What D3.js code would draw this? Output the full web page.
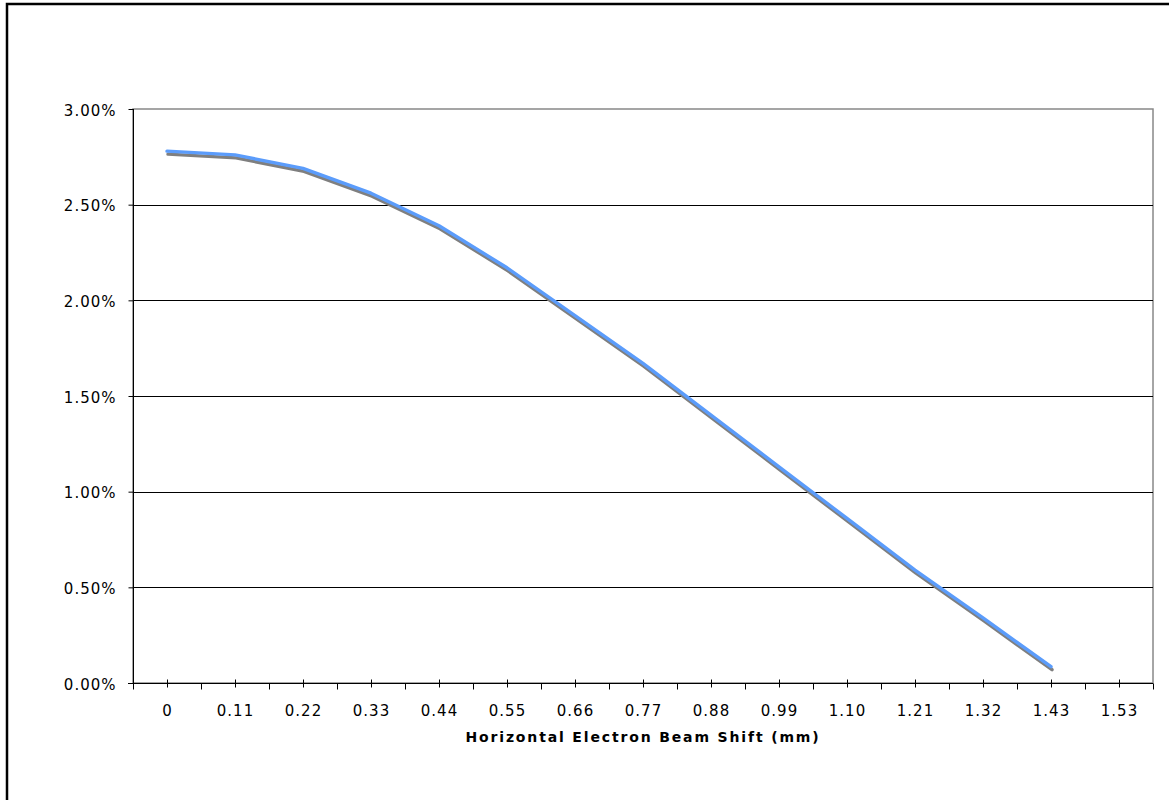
<!DOCTYPE html>
<html>
<head>
<meta charset="utf-8">
<script src="https://cdn.jsdelivr.net/npm/d3@7"></script>
<style>
  html, body { margin: 0; padding: 0; background: #fff; }
  svg { display: block; }
  text { font-family: "DejaVu Sans", Verdana, sans-serif; fill: #000; }
</style>
</head>
<body>
<svg id="chart" width="1169" height="800"></svg>
<script>
// ---- data ----
const categories = ["0", "0.11", "0.22", "0.33", "0.44", "0.55", "0.66", "0.77", "0.88", "0.99", "1.10", "1.21", "1.32", "1.43", "1.53"];
const values = [2.78, 2.76, 2.69, 2.56, 2.39, 2.17, 1.92, 1.67, 1.40, 1.13, 0.86, 0.59, 0.34, 0.085, null]; // percent
const yTicks = [0, 0.5, 1.0, 1.5, 2.0, 2.5, 3.0];
const xTitle = "Horizontal Electron Beam Shift (mm)";

// ---- layout ----
const svg = d3.select("#chart");
const plot = { left: 133, right: 1153, top: 109, bottom: 683 };

// outer chart border
svg.append("rect")
  .attr("x", 7).attr("y", 4)
  .attr("width", 1300).attr("height", 900)
  .attr("fill", "#fff").attr("stroke", "#000").attr("stroke-width", 2.5);

const x = d3.scaleBand().domain(categories).range([plot.left, plot.right]).padding(0);
const y = d3.scaleLinear().domain([0, 3.0]).range([plot.bottom, plot.top]);

// plot area border (gray)
svg.append("rect")
  .attr("x", plot.left).attr("y", plot.top)
  .attr("width", plot.right - plot.left).attr("height", plot.bottom - plot.top)
  .attr("fill", "none").attr("stroke", "#888").attr("stroke-width", 1.5);

// gridlines
svg.append("g").selectAll("line")
  .data(yTicks.filter(d => d > 0 && d < 3))
  .join("line")
  .attr("x1", plot.left).attr("x2", plot.right)
  .attr("y1", d => Math.round(y(d)) + 0.5).attr("y2", d => Math.round(y(d)) + 0.5)
  .attr("stroke", "#000").attr("stroke-width", 1);

// y axis
const yAxis = d3.axisLeft(y).tickValues(yTicks)
  .tickFormat(d => d.toFixed(2) + "%").tickSize(5).tickPadding(12);
const gy = svg.append("g").attr("transform", `translate(${plot.left + 0.5},0)`).call(yAxis);
gy.select(".domain").attr("stroke", "#000").attr("d", `M0,${plot.top}V${plot.bottom}`);
gy.selectAll(".tick line").attr("stroke", "#000");
gy.selectAll(".tick text")
  .attr("font-family", "DejaVu Sans, Verdana, sans-serif")
  .attr("font-size", 15).attr("letter-spacing", 1).attr("dy", "0.42em");

// x axis
const gx = svg.append("g").attr("transform", `translate(0,${plot.bottom + 0.5})`);
gx.append("line").attr("x1", plot.left - 5).attr("x2", plot.right)
  .attr("y1", 0).attr("y2", 0).attr("stroke", "#000");
// boundary ticks (outside)
const bounds = categories.map(c => x(c)).concat([plot.right]);
gx.selectAll("line.b").data(bounds).join("line").attr("class", "b")
  .attr("x1", d => Math.round(d) + 0.5).attr("x2", d => Math.round(d) + 0.5)
  .attr("y1", 0).attr("y2", 6).attr("stroke", "#000");
// center ticks (cross)
gx.selectAll("line.c").data(categories).join("line").attr("class", "c")
  .attr("x1", d => Math.round(x(d) + x.bandwidth() / 2) + 0.5)
  .attr("x2", d => Math.round(x(d) + x.bandwidth() / 2) + 0.5)
  .attr("y1", -4).attr("y2", 4).attr("stroke", "#000");
gx.selectAll("text").data(categories).join("text")
  .attr("x", d => x(d) + x.bandwidth() / 2 + 0.5)
  .attr("y", 32)
  .attr("text-anchor", "middle")
  .attr("font-size", 15).attr("letter-spacing", 1)
  .text(d => d);

// x title
svg.append("text")
  .attr("x", (plot.left + plot.right) / 2).attr("y", 742)
  .attr("text-anchor", "middle")
  .attr("font-size", 14).attr("font-weight", "bold").attr("letter-spacing", 1.85)
  .text(xTitle);

// line series with shadow
const pts = categories.map((c, i) => ({ c, v: values[i] })).filter(d => d.v != null);
const line = d3.line().x(d => x(d.c) + x.bandwidth() / 2).y(d => y(d.v));
svg.append("path").datum(pts)
  .attr("transform", "translate(1,3)")
  .attr("d", line).attr("fill", "none")
  .attr("stroke", "#7f7f7f").attr("stroke-width", 3.4)
  .attr("stroke-linejoin", "round").attr("stroke-linecap", "round");
svg.append("path").datum(pts)
  .attr("d", line).attr("fill", "none")
  .attr("stroke", "#5b9cfb").attr("stroke-width", 3.4)
  .attr("stroke-linejoin", "round").attr("stroke-linecap", "round");
</script>
</body>
</html>
